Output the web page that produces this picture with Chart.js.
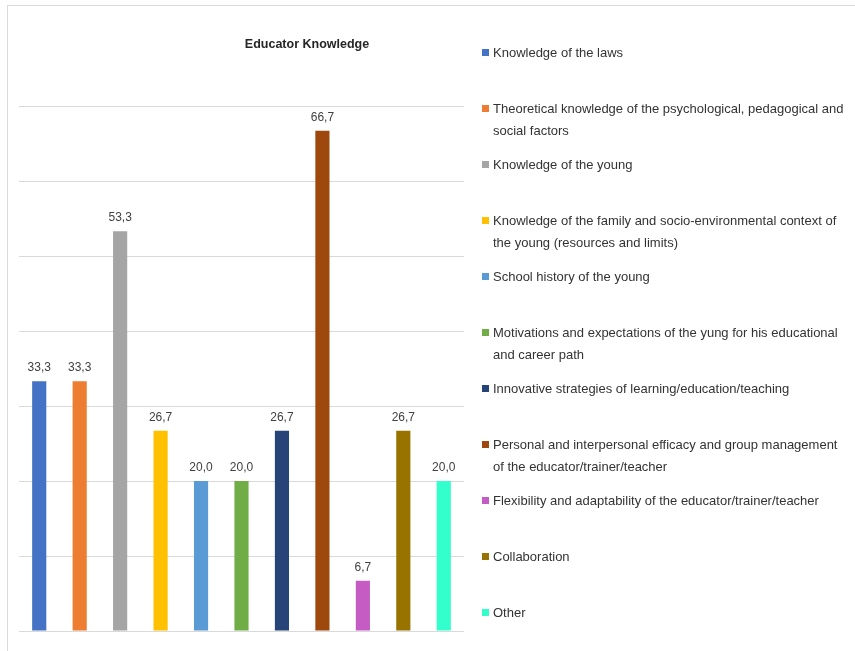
<!DOCTYPE html>
<html>
<head>
<meta charset="utf-8">
<script src="https://cdn.jsdelivr.net/npm/chart.js@4/dist/chart.umd.min.js"></script>
<style>
html,body{margin:0;padding:0;background:#fff;}
#wrap{position:relative;width:855px;height:651px;}
</style>
</head>
<body>
<div id="wrap"><canvas id="c" width="855" height="651"></canvas></div>
<script>
const chartTitle = "Educator Knowledge";
const categories = [
  ["Knowledge of the laws"],
  ["Theoretical knowledge of the psychological, pedagogical and", "social factors"],
  ["Knowledge of the young"],
  ["Knowledge of the family and socio-environmental context of", "the young (resources and limits)"],
  ["School history of the young"],
  ["Motivations and expectations of the yung for his educational", "and career path"],
  ["Innovative strategies of learning/education/teaching"],
  ["Personal and interpersonal efficacy and group management", "of the educator/trainer/teacher"],
  ["Flexibility and adaptability of the educator/trainer/teacher"],
  ["Collaboration"],
  ["Other"]
];
const values = [33.3, 33.3, 53.3, 26.7, 20.0, 20.0, 26.7, 66.7, 6.7, 26.7, 20.0];
const colors = ["#4472C4","#ED7D31","#A5A5A5","#FFC000","#5B9BD5","#70AD47","#264478","#9E480E","#C45CC4","#997300","#33FFCC"];
const yTicks = [0,10,20,30,40,50,60,70];

const FONT = "'Liberation Sans Narrow', 'Liberation Sans', Arial, sans-serif";

const extras = {
  id: 'extras',
  afterDraw(chart) {
    const ctx = chart.ctx;
    ctx.save();
    // outer border
    ctx.strokeStyle = '#d9d9d9';
    ctx.lineWidth = 1;
    ctx.strokeRect(7.5, 5.5, 900, 700);
    // title
    ctx.fillStyle = '#262626';
    ctx.font = "bold 12.5px " + FONT;
    ctx.textAlign = 'center';
    ctx.textBaseline = 'middle';
    ctx.fillText(chartTitle, 307, 45);
    // data labels
    const meta = chart.getDatasetMeta(0);
    ctx.font = "12px " + FONT;
    ctx.fillStyle = '#404040';
    ctx.textBaseline = 'alphabetic';
    meta.data.forEach((bar, i) => {
      const v = chart.data.datasets[0].data[i];
      ctx.fillText(v.toFixed(1).replace('.', ','), bar.x, bar.y - 10);
    });
    // legend
    ctx.textAlign = 'left';
    ctx.textBaseline = 'middle';
    ctx.font = "13px " + FONT;
    const labels = chart.data.labels;
    labels.forEach((lines, i) => {
      const y0 = 53 + i * 56;
      ctx.fillStyle = colors[i];
      ctx.fillRect(482, y0 - 4, 7, 7);
      ctx.fillStyle = '#333333';
      lines.forEach((t, k) => {
        ctx.fillText(t, 493, y0 + k * 22);
      });
    });
    ctx.restore();
  }
};

new Chart(document.getElementById('c'), {
  type: 'bar',
  data: {
    labels: categories,
    datasets: [{
      data: values,
      backgroundColor: colors,
      barPercentage: 0.35,
      categoryPercentage: 1.0
    }]
  },
  options: {
    responsive: false,
    animation: false,
    layout: { padding: { left: 19, right: 391, top: 106, bottom: 20 } },
    plugins: { legend: { display: false }, tooltip: { enabled: false } },
    scales: {
      x: { display: false, grid: { display: false } },
      y: {
        min: yTicks[0], max: yTicks[yTicks.length - 1],
        afterBuildTicks(scale) { scale.ticks = yTicks.map(v => ({ value: v })); },
        ticks: { display: false },
        grid: { color: '#d9d9d9', drawTicks: false },
        border: { display: false }
      }
    }
  },
  plugins: [extras]
});
</script>
</body>
</html>
